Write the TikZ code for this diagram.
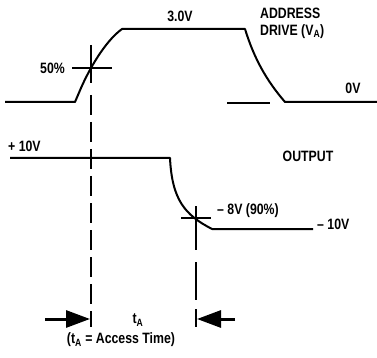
\documentclass[tikz,border=0pt]{standalone}
\usepackage{fontspec}
\setmainfont{Liberation Sans}[FakeStretch=0.82, BoldFont=Liberation Sans Bold]
\usetikzlibrary{arrows.meta}
\tikzset{
  wave/.style={line width=2pt, line join=round},
  timing/.style={line width=2.2pt, dash pattern=on 20pt off 7pt},
  lbl/.style={inner sep=0pt, font=\bfseries\fontsize{15}{17}\selectfont},
  tarrow/.style={line width=3pt, -{Triangle[length=24pt,width=17pt]}}
}
\begin{document}
\begin{tikzpicture}[x=1pt,y=-1pt]
  \useasboundingbox (0,0) rectangle (377,358);
  % Address drive (V_A): low, rise, high, fall, low
  \coordinate (a0) at (5,102);
  \coordinate (a1) at (75,102);
  \coordinate (a2) at (81,88);
  \coordinate (a3) at (122,29);
  \coordinate (a4) at (245,29);
  \coordinate (a5) at (285,102);
  \coordinate (a6) at (377,102);
  \draw[wave] (a0) -- (a1) -- (a2) .. controls (88,72) and (104,42) .. (a3)
    -- (a4) .. controls (254,58) and (266,80) .. (a5) -- (a6);
  \coordinate (z0) at (227,103);
  \coordinate (z1) at (270,103);
  \draw[wave] (z0) -- (z1);% short piece of the 0V level

  % Output: +10V level falling to -10V
  \coordinate (o0) at (10,158);
  \coordinate (o1) at (170,158);
  \coordinate (o2) at (212,229);
  \coordinate (o3) at (313,229);
  \draw[wave] (o0) -- (o1) .. controls (172,200) and (185,215) .. (o2) -- (o3);

  % Crosses at 50% and 90%
  \coordinate (m50) at (91,68);
  \coordinate (m90) at (196,218);
  \draw[wave] (m50) ++(-19,0) -- ++(40,0);
  \draw[wave] (m90) ++(-15,0) -- ++(30,0);

  % Timing lines: solid through the cross, then dashed
  \coordinate (t0) at (91,45);
  \coordinate (t1) at (91,83);
  \coordinate (t2) at (91,95);
  \coordinate (t3) at (91,327);
  \draw[wave, line width=2.2pt] (t0) -- (t1);
  \draw[timing] (t2) -- (t3);
  \coordinate (u0) at (196,206);
  \coordinate (u1) at (196,327);
  \draw[timing, dash pattern=on 44pt off 12pt on 38pt off 9pt on 30pt] (u0) -- (u1);

  % Arrows pointing at the timing lines
  \coordinate (l0) at (45,319);
  \coordinate (l1) at (90,319);
  \coordinate (r0) at (235,319);
  \coordinate (r1) at (197,319);
  \draw[tarrow] (l0) -- (l1);
  \draw[tarrow] (r0) -- (r1);

  % Labels
  \node[lbl] (vhigh) at (180,16) {3.0V};
  \node[lbl, anchor=north west, align=left] (addr) at (260,8) {ADDRESS\\DRIVE (V\textsubscript{A})};
  \node[lbl] (vlow) at (353,88) {0V};
  \node[lbl, anchor=east] (half) at (65,68) {50\%};
  \node[lbl, anchor=west] (pten) at (8,146) {+ 10V};
  \node[lbl] (outp) at (308,156) {OUTPUT};
  \node[lbl, anchor=west] (ninety) at (217,211) {-- 8V (90\%)};
  \node[lbl, anchor=west] (mten) at (317,224) {-- 10V};
  \node[lbl] (ta) at (138,320) {t\textsubscript{A}};
  \node[lbl] (tadef) at (121,340) {(t\textsubscript{A} = Access Time)};
\end{tikzpicture}
\end{document}
